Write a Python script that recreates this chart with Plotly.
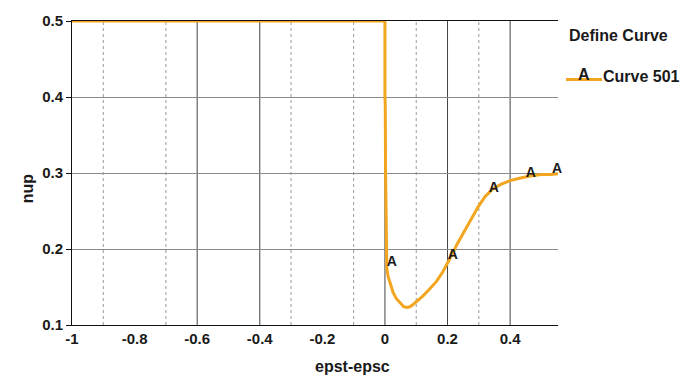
import plotly.graph_objects as go

# Curve 501
curve_x = [-1.0, -0.5, 0.0, 0.0, 0.001, 0.002, 0.003, 0.004, 0.006, 0.01, 0.018, 0.026, 0.036, 0.048,
           0.06, 0.07, 0.08, 0.09, 0.105, 0.121, 0.14, 0.166, 0.185, 0.2, 0.215, 0.23, 0.25,
           0.272, 0.297, 0.32, 0.345, 0.37, 0.4, 0.43, 0.463, 0.5, 0.53, 0.553]
curve_y = [0.5, 0.5, 0.5, 0.40, 0.39, 0.30, 0.24, 0.20, 0.175, 0.164, 0.152, 0.143, 0.135, 0.129,
           0.124, 0.123, 0.124, 0.127, 0.132, 0.138, 0.146, 0.158, 0.170, 0.181, 0.193, 0.206, 0.221,
           0.237, 0.255, 0.269, 0.279, 0.285, 0.29, 0.293, 0.296, 0.298, 0.298, 0.299]

# "A" marker labels
marker_x = [0.022, 0.217, 0.348, 0.466, 0.550]
marker_y = [0.182, 0.192, 0.279, 0.300, 0.304]

solid_grid_x = [-0.6, -0.4, 0.0, 0.2, 0.4]
dotted_grid_x = [-0.9, -0.7, -0.3, -0.1, 0.1, 0.3]

x_ticks = [-1, -0.8, -0.6, -0.4, -0.2, 0, 0.2, 0.4]
x_tick_text = ["-1", "-0.8", "-0.6", "-0.4", "-0.2", "0", "0.2", "0.4"]
y_ticks = [0.1, 0.2, 0.3, 0.4, 0.5]
y_tick_text = ["0.1", "0.2", "0.3", "0.4", "0.5"]

ORANGE = "#F2A51F"
FONT = "Liberation Sans"
TXT = "#1a1a1a"

fig = go.Figure()
fig.add_trace(go.Scatter(x=curve_x, y=curve_y, mode="lines",
                         line=dict(color=ORANGE, width=3), showlegend=False,
                         hoverinfo="skip", cliponaxis=False))
fig.add_trace(go.Scatter(x=marker_x, y=marker_y, mode="text", text=["<b>A</b>"] * len(marker_x),
                         textfont=dict(family=FONT, size=14, color=TXT),
                         showlegend=False, cliponaxis=False))

shapes = []
for gx in solid_grid_x:
    shapes.append(dict(type="line", xref="x", yref="paper", x0=gx, x1=gx, y0=0, y1=1,
                       line=dict(color="#444", width=1), layer="below"))
for gx in dotted_grid_x:
    shapes.append(dict(type="line", xref="x", yref="paper", x0=gx, x1=gx, y0=0, y1=1,
                       line=dict(color="#999", width=1, dash="dot"), layer="below"))
# legend line
shapes.append(dict(type="line", xref="paper", yref="paper", x0=(566 - 72) / 486, x1=(602 - 72) / 486,
                   y0=(325 - 77) / 307, y1=(325 - 77) / 307,
                   line=dict(color=ORANGE, width=3)))

annotations = [
    dict(text="<b>Define Curve</b>", xref="paper", yref="paper", x=(567 - 72) / 486, y=(325 - 33) / 307,
         xanchor="left", yanchor="middle", showarrow=False,
         font=dict(family=FONT, size=16, color=TXT)),
    dict(text="<b>A</b>", xref="paper", yref="paper", x=(584 - 72) / 486, y=(325 - 72) / 307,
         xanchor="center", yanchor="middle", showarrow=False,
         font=dict(family=FONT, size=16, color=TXT)),
    dict(text="<b>Curve 501</b>", xref="paper", yref="paper", x=(601 - 72) / 486, y=(325 - 74) / 307,
         xanchor="left", yanchor="middle", showarrow=False,
         font=dict(family=FONT, size=16, color=TXT)),
    dict(text="<b>epst-epsc</b>", xref="paper", yref="paper", x=(352 - 72) / 486, y=(325 - 367) / 307,
         xanchor="center", yanchor="middle", showarrow=False,
         font=dict(family=FONT, size=16, color=TXT)),
    dict(text="<b>nup</b>", xref="paper", yref="paper", x=(27 - 72) / 486, y=(325 - 187) / 307,
         xanchor="center", yanchor="middle", showarrow=False, textangle=-90,
         font=dict(family=FONT, size=16, color=TXT)),
]

fig.update_layout(
    width=687, height=380,
    margin=dict(l=72, r=129, t=18, b=55),
    paper_bgcolor="white", plot_bgcolor="white",
    showlegend=False,
    shapes=shapes, annotations=annotations,
    font=dict(family=FONT, size=15, color=TXT),
    xaxis=dict(range=[-1, 0.553], tickvals=x_ticks, ticktext=["<b>%s</b>" % t for t in x_tick_text],
               showgrid=False, zeroline=False, showline=True, linecolor="#111", linewidth=1,
               mirror=True, ticks="", ticklen=0, tickfont=dict(family=FONT, size=15, color=TXT)),
    yaxis=dict(range=[0.1, 0.5], tickvals=y_ticks, ticktext=["<b>%s</b>" % t for t in y_tick_text],
               showgrid=True, gridcolor="#8a8a8a", gridwidth=1, zeroline=False,
               showline=True, linecolor="#111", linewidth=1, ticks="outside", ticklen=5,
               tickcolor="#111", tickfont=dict(family=FONT, size=15, color=TXT)),
)

fig.write_html("out.html")
